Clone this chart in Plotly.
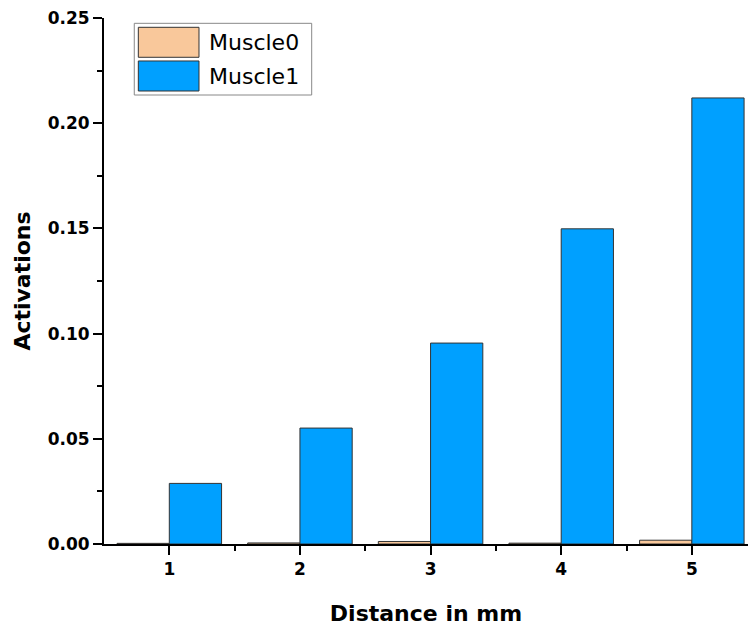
import plotly.graph_objects as go

distances = [1, 2, 3, 4, 5]
muscle0 = [0.0003, 0.0005, 0.0012, 0.0004, 0.0018]
muscle1 = [0.0288, 0.0551, 0.0955, 0.1498, 0.2120]
y_ticks = [0.0, 0.05, 0.10, 0.15, 0.20, 0.25]
y_tick_text = ["0.00", "0.05", "0.10", "0.15", "0.20", "0.25"]
series_names = ["Muscle0", "Muscle1"]
series_colors = ["#F9C89B", "#00A0FF"]

FONT = "DejaVu Sans, Arial, sans-serif"

fig = go.Figure()
fig.add_trace(go.Bar(x=distances, y=muscle0, name=series_names[0], offset=-0.4, width=0.4,
                     marker=dict(color=series_colors[0], line=dict(color="#333333", width=1))))
fig.add_trace(go.Bar(x=distances, y=muscle1, name=series_names[1], offset=0.0, width=0.4,
                     marker=dict(color=series_colors[1], line=dict(color="#333333", width=1))))

# custom legend (large rectangle swatches)
fig.add_shape(type="rect", xref="paper", yref="paper", x0=0.0470, x1=0.3225, y0=0.8536, y1=0.9899,
              line=dict(color="#888888", width=1), fillcolor="white", layer="above")
sw = [(0.9253, 0.9823, 0.9538), (0.8612, 0.9183, 0.8897)]
for (y0, y1, yc), name, col in zip(sw, series_names, series_colors):
    fig.add_shape(type="rect", xref="paper", yref="paper", x0=0.0533, x1=0.1475, y0=y0, y1=y1,
                  line=dict(color="#333333", width=1), fillcolor=col, layer="above")
    fig.add_annotation(xref="paper", yref="paper", x=0.1604, y=yc, text=name, showarrow=False,
                       xanchor="left", yanchor="middle",
                       font=dict(size=22, family=FONT, color="black"))

axis_font = dict(family=FONT, size=17, color="black")
fig.update_layout(
    width=748, height=627,
    margin=dict(l=104, r=0, t=18, b=83),
    plot_bgcolor="white", paper_bgcolor="white",
    barmode="overlay",
    showlegend=False,
    font=dict(family=FONT, color="black"),
    xaxis=dict(range=[0.5, 5.43], tickvals=distances, ticktext=[f"<b>{d}</b>" for d in distances],
               showline=True, linecolor="black", linewidth=2, ticks="outside", ticklen=9,
               tickwidth=2, tickcolor="black", showgrid=False, zeroline=False,
               tickfont=axis_font,
               minor=dict(tickvals=[1.5, 2.5, 3.5, 4.5], ticks="outside", ticklen=5, tickwidth=2, tickcolor="black"),
               title=dict(text="<b>Distance in mm</b>", font=dict(size=22, family=FONT), standoff=27)),
    yaxis=dict(range=[0, 0.25], tickvals=y_ticks, ticktext=[f"<b>{t}</b>" for t in y_tick_text],
               showline=True, linecolor="black", linewidth=2, ticks="outside", ticklen=9,
               tickwidth=2, tickcolor="black", showgrid=False, zeroline=False,
               tickfont=axis_font,
               minor=dict(dtick=0.025, ticks="outside", ticklen=5, tickwidth=2, tickcolor="black"),
               title=dict(text="<b>Activations</b>", font=dict(size=22, family=FONT), standoff=11)),
)
fig.write_html("out.html")
